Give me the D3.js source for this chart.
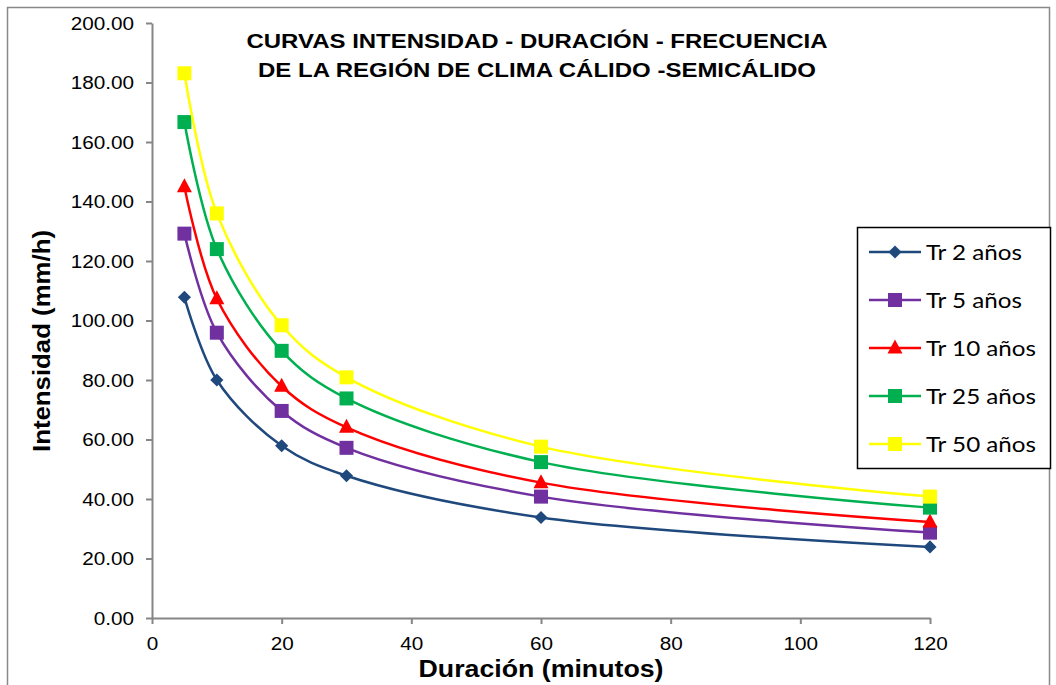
<!DOCTYPE html>
<html>
<head>
<meta charset="utf-8">
<script src="https://cdn.jsdelivr.net/npm/d3@7"></script>
<style>
  body { margin: 0; background: #fff; }
</style>
</head>
<body>
<div class="chart"></div>
<script>
// Data
const durations = [5, 10, 20, 30, 60, 120];
const seriesNames = ['Tr 2 años', 'Tr 5 años', 'Tr 10 años', 'Tr 25 años', 'Tr 50 años'];
const tr2 = [107.8, 80.0, 57.9, 47.8, 33.8, 23.9];
const tr5 = [129.2, 95.9, 69.6, 57.2, 40.8, 28.7];
const tr10 = [145.0, 107.3, 77.9, 64.1, 45.5, 32.3];
const tr25 = [166.7, 124.0, 89.8, 73.8, 52.4, 37.1];
const tr50 = [183.1, 136.0, 98.4, 80.9, 57.6, 40.8];
const yTicks = [0, 20, 40, 60, 80, 100, 120, 140, 160, 180, 200];
const xTicks = [0, 20, 40, 60, 80, 100, 120];
const titleLines = ['CURVAS INTENSIDAD - DURACIÓN - FRECUENCIA', 'DE LA REGIÓN DE CLIMA CÁLIDO -SEMICÁLIDO'];

const seriesValues = [tr2, tr5, tr10, tr25, tr50];
const colors = ['#1F497D', '#7030A0', '#FF0000', '#00B050', '#FFFF00'];
const markers = ['diamond', 'square', 'triangle', 'square', 'square'];

const dataset = seriesNames.map((name, i) => ({
    name: name,
    color: colors[i],
    marker: markers[i],
    points: durations.map((d, j) => ({ x: d, y: seriesValues[i][j] }))
}));

// Dimensions
const dimensions = {
    width: 1056,
    height: 685,
    left: 152,
    right: 930,
    top: 23,
    bottom: 618
};

const svg = d3.select('.chart')
    .append('svg')
    .attr('width', dimensions.width)
    .attr('height', dimensions.height)
    .style('display', 'block');

// outer frame
svg.append('rect')
    .attr('x', 7.5).attr('y', 7.5)
    .attr('width', 1042).attr('height', 700)
    .attr('fill', 'none')
    .attr('stroke', '#898989')
    .attr('stroke-width', 1.5);

// Scales
const xScale = d3.scaleLinear()
    .domain([0, 120])
    .range([dimensions.left, dimensions.right]);

const yScale = d3.scaleLinear()
    .domain([0, 200])
    .range([dimensions.bottom, dimensions.top]);

// Axes
const axisColor = '#868686';
const arial = 'Arial, "Liberation Sans", sans-serif';
const stretch = 1.12;

const xAxisGroup = svg.append('g')
    .attr('transform', `translate(0, ${dimensions.bottom})`)
    .call(d3.axisBottom(xScale).tickValues(xTicks).tickSize(6).tickSizeOuter(0));

const yAxisGroup = svg.append('g')
    .attr('transform', `translate(${dimensions.left}, 0)`)
    .call(d3.axisLeft(yScale).tickValues(yTicks).tickSize(6).tickSizeOuter(0)
        .tickFormat(d3.format('.2f')));

[xAxisGroup, yAxisGroup].forEach(g => {
    g.select('.domain').attr('stroke', axisColor).attr('stroke-width', 2);
    g.selectAll('.tick line').attr('stroke', axisColor).attr('stroke-width', 2);
    g.selectAll('.tick text')
        .attr('fill', '#000')
        .style('font-family', arial)
        .style('font-size', '18.5px');
});
xAxisGroup.selectAll('.tick text')
    .attr('y', 0)
    .attr('dy', '0.71em')
    .attr('transform', `translate(0, 19) scale(${stretch}, 1)`);
yAxisGroup.selectAll('.tick text')
    .attr('x', 0)
    .attr('dy', '0.34em')
    .attr('transform', `translate(-18, 0) scale(${stretch}, 1)`);

// Axis titles
svg.append('text')
    .attr('x', 541)
    .attr('y', 677)
    .attr('text-anchor', 'middle')
    .attr('textLength', 245)
    .attr('lengthAdjust', 'spacingAndGlyphs')
    .style('font-family', arial)
    .style('font-weight', 'bold')
    .style('font-size', '23px')
    .text('Duración (minutos)');

svg.append('text')
    .attr('transform', 'translate(50, 341) rotate(-90)')
    .attr('text-anchor', 'middle')
    .attr('textLength', 222)
    .attr('lengthAdjust', 'spacingAndGlyphs')
    .style('font-family', arial)
    .style('font-weight', 'bold')
    .style('font-size', '23px')
    .text('Intensidad (mm/h)');

// Title
const titleLengths = [581, 558];
svg.append('g').selectAll('text')
    .data(titleLines)
    .join('text')
    .attr('x', 537)
    .attr('y', (d, i) => 48 + i * 29)
    .attr('text-anchor', 'middle')
    .attr('textLength', (d, i) => titleLengths[i])
    .attr('lengthAdjust', 'spacingAndGlyphs')
    .style('font-family', arial)
    .style('font-weight', 'bold')
    .style('font-size', '20px')
    .text(d => d);

// Lines
const line = d3.line()
    .x(d => xScale(d.x))
    .y(d => yScale(d.y))
    .curve(d3.curveCatmullRom.alpha(0.5));

const markerPath = (type) => {
    if (type === 'diamond') return d3.symbol(d3.symbolDiamond2, 110)();
    if (type === 'triangle') return 'M0,-8.5L7.5,5.5L-7.5,5.5Z';
    return 'M-7,-7H7V7H-7Z';
};

const seriesGroups = svg.append('g')
    .selectAll('g')
    .data(dataset)
    .join('g');

seriesGroups.append('path')
    .attr('d', d => line(d.points))
    .attr('fill', 'none')
    .attr('stroke', d => d.color)
    .attr('stroke-width', 2.5);

seriesGroups.each(function(s) {
    d3.select(this).selectAll('path.marker')
        .data(s.points)
        .join('path')
        .attr('class', 'marker')
        .attr('transform', d => `translate(${xScale(d.x)}, ${yScale(d.y)})`)
        .attr('d', markerPath(s.marker))
        .attr('fill', s.color);
});

// Legend
const legend = svg.append('g');
legend.append('rect')
    .attr('x', 857.5).attr('y', 227.5)
    .attr('width', 193).attr('height', 241)
    .attr('fill', '#fff')
    .attr('stroke', '#000')
    .attr('stroke-width', 1.5);

const legendItems = legend.selectAll('g.item')
    .data(dataset)
    .join('g')
    .attr('class', 'item')
    .attr('transform', (d, i) => `translate(869, ${252 + i * 48})`);

legendItems.append('line')
    .attr('x1', 0).attr('x2', 52)
    .attr('stroke', d => d.color)
    .attr('stroke-width', 2.5);

legendItems.append('path')
    .attr('transform', 'translate(26, 0)')
    .attr('d', d => markerPath(d.marker))
    .attr('fill', d => d.color);

legendItems.append('text')
    .attr('transform', 'translate(57, 0) scale(1.1, 1)')
    .attr('dy', '0.35em')
    .style('font-family', 'Lato, "Open Sans", sans-serif')
    .style('font-size', '22px')
    .text(d => d.name);
</script>
</body>
</html>
